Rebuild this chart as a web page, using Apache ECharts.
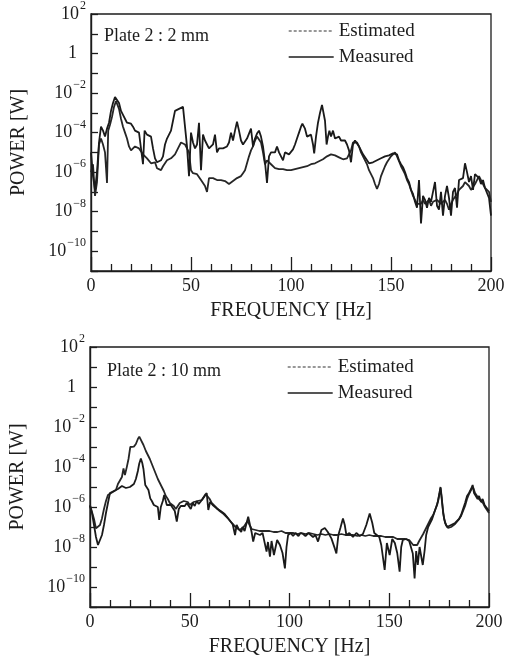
<!DOCTYPE html>
<html>
<head>
<meta charset="utf-8">
<title>Plate 2 power spectra</title>
<script src="https://cdn.jsdelivr.net/npm/echarts@6/dist/echarts.min.js"></script>
<style>
  html, body { margin: 0; padding: 0; background: #fff; }
  #chart { width: 510px; height: 658px; }
</style>
</head>
<body>
<div id="chart"></div>
<script>
// 面板标题 / legend names
const panelTitles = ['Plate 2 : 2 mm', 'Plate 2 : 10 mm']
const seriesNames = ['Estimated', 'Measured']
const xName = 'FREQUENCY [Hz]'
const yName = 'POWER [W]'

// curves: [frequency in Hz, log10 of power in W]
const estimated2mm = [
  [0, -6.0], [1, -5.6], [2, -7.2], [3, -6.5], [4, -4.6], [5, -4.3], [6, -4.6], [7, -5.0], [8, -6.55], [8.6, -3.9],
  [9.5, -3.6], [10.5, -3.2], [11.5, -2.7], [12.5, -2.4], [13.3, -2.45], [14, -2.8], [15, -3.3], [16, -3.7], [17, -4.0], [18, -4.3],
  [19, -4.7], [20, -4.9], [21, -5.0], [22, -4.7], [23, -4.6], [24, -4.8], [25, -4.9], [26, -5.1], [27, -5.2], [28, -5.3],
  [29, -5.4], [30, -5.55], [31, -5.45], [32, -5.5], [33, -5.8], [34, -5.85], [35, -5.9], [36, -5.7], [37, -5.6], [38, -5.4],
  [39, -5.4], [40, -5.3], [41, -5.2], [42, -5.1], [43, -4.9], [44, -4.7], [45, -4.5], [46, -4.4], [47, -4.6], [48, -4.8],
  [49, -5.0], [50, -5.9], [51, -6.05], [52, -6.0], [53, -6.1], [54, -6.2], [55, -6.4], [56, -6.5], [57, -6.7], [58, -7.0],
  [59, -6.3], [60, -6.2], [61, -6.3], [62, -6.25], [63, -6.4], [64, -6.45], [65, -6.4], [66, -6.5], [67, -6.45], [68, -6.55],
  [69, -6.6], [70, -6.5], [71, -6.45], [72, -6.4], [73, -6.3], [74, -6.2], [75, -6.2], [76, -6.05], [77, -5.9], [78, -5.55],
  [79, -5.2], [80, -4.9], [81, -4.7], [82, -4.4], [83, -4.2], [84, -4.1], [85, -4.5], [86, -5.0], [87, -5.6], [88, -5.4],
  [89, -5.5], [90, -5.6], [91, -5.7], [92, -5.8], [93, -5.75], [94, -5.85], [95, -5.9], [96, -5.85], [97, -5.9], [98, -5.9],
  [99, -5.85], [100, -5.9], [102, -5.85], [104, -5.8], [106, -5.75], [108, -5.7], [110, -5.6], [112, -5.55], [114, -5.45], [116, -5.35],
  [118, -5.2], [120, -5.1], [122, -5.15], [124, -5.25], [126, -5.35], [127, -5.4], [128, -5.3], [129, -5.1], [130, -4.9], [131, -4.5],
  [132, -4.4], [133, -4.5], [134, -4.7], [135, -5.0], [136, -5.2], [137, -5.4], [138, -5.6], [139, -5.9], [140, -6.1], [141, -6.3],
  [142, -6.6], [143, -6.85], [144, -6.6], [145, -6.2], [146, -5.95], [147, -5.7], [148, -5.5], [149, -5.35], [150, -5.2], [151, -5.1],
  [152, -5.0], [153, -5.2], [154, -5.45], [155, -5.7], [156, -5.9], [157, -6.1], [158, -6.4], [159, -6.6], [160, -6.9], [161, -7.2],
  [162, -7.4], [163, -7.6], [164, -7.5], [165, -7.6], [166, -7.4], [167, -7.6], [168, -7.5], [169, -7.4], [170, -7.7], [171, -7.5],
  [172, -7.6], [173, -7.4], [174, -7.3], [175, -7.6], [176, -7.7], [177, -7.4], [178, -7.6], [179, -7.9], [180, -7.6], [181, -7.4],
  [182, -7.5], [183, -7.1], [184, -6.9], [185, -6.8], [186, -6.7], [187, -6.5], [188, -6.4], [189, -6.7], [190, -6.9], [191, -6.8],
  [192, -6.6], [193, -6.4], [194, -6.2], [195, -6.4], [196, -6.6], [197, -6.8], [198, -6.9], [199, -7.0], [200, -7.5]
]

const measured2mm = [
  [0, -5.0], [1, -6.2], [2, -6.9], [3, -6.0], [4, -4.5], [5, -3.7], [6, -3.9], [7, -4.2], [8, -3.8], [9, -3.5],
  [10, -2.9], [11, -2.5], [12, -2.2], [13, -2.15], [14, -2.5], [15, -2.9], [16, -3.1], [17, -3.2], [18, -3.5], [19, -3.6],
  [20, -3.55], [21, -3.7], [22, -3.9], [23, -3.8], [24, -4.0], [25, -3.9], [26, -5.6], [26.8, -3.9], [28, -4.1], [29, -4.0],
  [30, -4.2], [31, -4.8], [32, -5.3], [33, -5.5], [34, -5.6], [35, -5.4], [36, -5.2], [37, -4.6], [38, -4.3], [39, -4.3],
  [40, -3.9], [41, -3.4], [42, -2.9], [43, -2.9], [44, -2.8], [45, -2.9], [46, -2.7], [47, -2.65], [48, -4.7], [49, -6.2],
  [50, -4.0], [51, -4.5], [52, -4.8], [53, -4.6], [54, -3.5], [55, -5.9], [56, -4.1], [57, -4.4], [58, -4.6], [59, -4.8],
  [60, -4.9], [61, -4.6], [62, -4.1], [63, -5.0], [64, -4.8], [65, -4.9], [66, -4.8], [67, -4.9], [68, -4.7], [69, -4.5],
  [70, -4.0], [71, -4.4], [72, -3.9], [73, -3.45], [74, -3.9], [75, -4.4], [76, -4.6], [77, -4.7], [78, -4.3], [79, -4.2],
  [80, -3.8], [81, -4.7], [82, -4.3], [83, -4.05], [84, -3.9], [85, -4.2], [86, -4.7], [87, -5.5], [88, -6.55], [89, -5.2],
  [90, -5.0], [91, -5.1], [92, -5.0], [93, -4.7], [94, -5.0], [95, -5.1], [96, -5.4], [97, -5.0], [98, -5.0], [99, -5.1],
  [100, -5.0], [101, -4.85], [102, -4.6], [103, -4.3], [104, -4.0], [105, -3.7], [105.7, -3.55], [107, -3.8], [108, -4.2], [109, -4.2],
  [110, -4.1], [111, -4.6], [111.6, -5.05], [112.5, -4.2], [113.5, -3.5], [114.5, -3.0], [115.5, -2.6], [116.3, -2.5], [117, -3.4], [117.8, -4.6],
  [118.5, -4.2], [119.2, -3.9], [120, -4.2], [121, -3.9], [122, -4.3], [123, -4.35], [124, -4.2], [125, -4.4], [126, -4.5], [127, -4.4],
  [128, -4.6], [129, -4.9], [130, -5.5], [131, -4.6], [132, -4.4], [133, -4.5], [134, -4.7], [135, -4.9], [136, -5.1], [137, -5.2],
  [138, -5.4], [139, -5.55], [140, -5.6], [141, -5.5], [142, -5.45], [143, -5.4], [144, -5.4], [145, -5.3], [146, -5.25], [147, -5.2],
  [148, -5.15], [149, -5.15], [150, -5.1], [151, -5.05], [152, -5.0], [153, -5.1], [154, -5.4], [155, -5.6], [156, -5.75], [157, -6.0],
  [158, -6.3], [159, -6.5], [160, -6.9], [161, -7.1], [162, -7.5], [163, -7.8], [164, -6.4], [165, -8.6], [166, -7.2], [167, -7.4],
  [168, -7.8], [169, -7.3], [170, -7.5], [171, -7.0], [172, -6.5], [173, -7.7], [174, -7.9], [175, -7.0], [176, -8.2], [177, -7.2],
  [178, -6.7], [179, -7.3], [180, -8.2], [181, -7.0], [182, -6.8], [183, -7.8], [184, -6.4], [185, -6.5], [186, -6.3], [187, -5.55],
  [188, -6.0], [189, -6.5], [190, -6.2], [191, -6.9], [192, -6.1], [193, -6.0], [194, -6.3], [195, -6.6], [196, -6.4], [197, -6.8],
  [198, -6.9], [199, -7.3], [200, -8.2]
]

const estimated10mm = [
  [0, -5.9], [1, -6.0], [2, -6.6], [3, -7.07], [4, -7.1], [5, -6.9], [6, -6.57], [7, -6.1], [8, -5.7], [9, -5.4],
  [10, -5.3], [11, -5.28], [12, -5.2], [13, -5.15], [14, -4.85], [15, -4.9], [16, -4.5], [16.8, -4.07], [17.5, -4.4], [18.5, -3.98],
  [19.3, -3.6], [20.2, -3.0], [21, -3.0], [22, -2.98], [23, -2.85], [24, -2.6], [24.7, -2.48], [25.5, -2.55], [26.8, -2.9], [28, -3.2],
  [29, -3.4], [30, -3.6], [31, -3.85], [32, -4.1], [33, -4.35], [34, -4.6], [35, -4.8], [36, -5.0], [37, -5.2], [38, -5.45],
  [39, -5.6], [40, -5.8], [41, -5.85], [42, -5.95], [43, -6.1], [44, -6.0], [45, -5.8], [46, -5.9], [47, -5.7], [48, -5.8],
  [49, -5.75], [50, -5.9], [51, -5.9], [52, -5.75], [53, -5.8], [54, -5.7], [55, -5.8], [56, -5.65], [57, -5.55], [58, -5.35],
  [59, -5.4], [60, -5.6], [61, -5.8], [62, -5.9], [63, -6.0], [64, -6.1], [65, -6.2], [66, -6.25], [67, -6.35], [68, -6.4],
  [69, -6.55], [70, -6.6], [71, -6.8], [72, -6.9], [73, -7.0], [74, -7.1], [75, -7.15], [76, -7.1], [77, -7.0], [78, -6.9],
  [79, -6.7], [80, -6.9], [81, -7.1], [82, -7.2], [83, -7.15], [84, -7.1], [85, -7.2], [86, -7.15], [87, -7.2], [88, -7.15],
  [90, -7.2], [92, -7.25], [94, -7.25], [96, -7.2], [98, -7.3], [100, -7.3], [102, -7.3], [104, -7.35], [106, -7.3], [108, -7.35],
  [110, -7.3], [112, -7.35], [114, -7.4], [116, -7.35], [118, -7.4], [120, -7.35], [122, -7.4], [124, -7.4], [126, -7.35], [128, -7.4],
  [130, -7.4], [132, -7.4], [134, -7.45], [136, -7.4], [138, -7.45], [140, -7.4], [142, -7.45], [144, -7.45], [146, -7.45], [148, -7.5],
  [150, -7.5], [152, -7.5], [154, -7.6], [156, -7.6], [158, -7.6], [160, -7.65], [162, -7.9], [164, -7.9], [165, -7.7], [166, -7.6],
  [167, -7.35], [168, -7.15], [169, -6.95], [170, -6.75], [171, -6.55], [172, -6.4], [173, -6.15], [174, -5.9], [175, -5.4], [175.7, -5.05],
  [176.5, -5.8], [177.5, -6.6], [178.5, -6.9], [179.5, -7.05], [181, -7.0], [182, -6.95], [183, -6.85], [184, -6.75], [185, -6.6], [186, -6.45],
  [187, -6.2], [188, -5.95], [189, -5.6], [190, -5.35], [191, -5.15], [192, -5.0], [193, -5.3], [194, -5.4], [195, -5.6], [196, -5.7],
  [197, -5.8], [198, -6.0], [199, -6.15], [200, -6.3]
]

const measured10mm = [
  [0, -5.95], [1, -6.3], [2, -6.9], [3, -7.5], [4, -7.9], [4.5, -8.0], [5, -7.95], [6, -7.4], [7, -6.9], [8, -6.3],
  [9, -5.8], [10, -5.3], [11, -5.2], [12, -5.2], [13, -5.15], [14, -5.1], [15, -5.0], [16, -4.95], [17, -5.0], [18, -5.05],
  [19, -5.1], [20, -5.0], [21, -4.9], [22, -4.85], [23, -4.6], [24, -4.2], [24.7, -3.82], [25.5, -3.57], [26.2, -3.8], [26.8, -4.1],
  [27.7, -4.9], [28.5, -5.0], [29.3, -5.15], [30.2, -5.57], [31, -5.7], [32, -5.9], [33, -5.8], [34, -6.0], [34.7, -6.65], [35.5, -6.0],
  [36.5, -5.7], [37.2, -5.4], [38.5, -5.9], [39.5, -5.8], [40.5, -5.9], [41.5, -6.0], [42.5, -6.2], [43.5, -6.73], [44.5, -6.1], [45.5, -5.95],
  [46.5, -6.0], [47.5, -5.95], [48.5, -5.8], [49.5, -5.7], [50.5, -6.1], [51.5, -5.8], [52.5, -5.95], [53.5, -5.7], [54.5, -5.85], [55.5, -5.75],
  [56.5, -5.6], [57.5, -5.5], [58.5, -5.3], [59.3, -6.15], [60.2, -5.75], [61.5, -5.9], [62.5, -6.0], [63.5, -6.07], [64.5, -6.15], [65.5, -6.2],
  [66.5, -6.3], [67.5, -6.35], [68.5, -6.4], [69.5, -6.6], [70.5, -6.7], [71.5, -6.85], [72.7, -7.4], [73.5, -6.9], [74.5, -7.1], [75.8, -7.25],
  [76.5, -7.0], [77.5, -7.2], [78.5, -6.8], [79.3, -6.48], [80.2, -6.9], [81, -7.25], [81.8, -7.73], [82.8, -7.3], [84, -7.35], [85.2, -7.4],
  [86.5, -7.3], [87.5, -7.4], [88.5, -8.23], [89.2, -7.75], [90.2, -8.48], [91, -7.7], [92.2, -8.4], [93.8, -7.65], [95.2, -7.9], [96.5, -8.3],
  [97.7, -9.07], [98.5, -8.0], [99.3, -7.4], [100.5, -7.3], [101.8, -7.45], [103, -7.3], [104.5, -7.45], [105.5, -7.3], [106.8, -7.35], [108, -7.45],
  [109.5, -7.3], [110.5, -7.4], [111.8, -7.5], [113, -7.4], [114.3, -7.73], [116, -7.15], [117.7, -7.05], [119.2, -7.25], [120, -7.3], [121, -7.57],
  [122.7, -8.07], [123.5, -8.32], [124.5, -7.4], [125.5, -7.05], [126.8, -6.57], [127.7, -6.9], [128.5, -7.4], [130, -7.3], [131.8, -7.5], [133.5, -7.3],
  [135.2, -7.45], [136.8, -7.35], [138.5, -6.9], [140.2, -6.32], [141.5, -6.8], [142.5, -7.3], [143.5, -7.4], [145, -7.5], [146, -7.9], [147.7, -9.15],
  [148.8, -7.8], [150.2, -8.4], [151.5, -7.6], [152.8, -7.8], [154, -8.3], [155.2, -9.23], [156, -8.0], [156.8, -7.65], [158.5, -7.6], [160, -7.7],
  [161.8, -8.32], [162.7, -9.57], [163.5, -8.2], [164.3, -8.9], [165.2, -8.0], [166.8, -8.9], [167.7, -8.2], [168.5, -7.4], [169.5, -7.0], [170.5, -6.8],
  [171.5, -6.6], [172.5, -6.3], [173.5, -6.0], [174.5, -5.7], [175.2, -5.3], [175.7, -5.0], [176.3, -5.5], [177, -6.3], [178, -6.8], [179, -7.0],
  [180, -6.95], [181, -6.9], [182, -6.85], [183, -6.8], [184, -6.7], [185, -6.6], [186, -6.4], [187, -6.1], [188, -5.8], [189, -5.45],
  [190, -5.3], [191, -5.1], [191.8, -4.9], [192.5, -5.3], [193.3, -5.25], [194.3, -5.6], [195, -5.45], [196, -5.75], [196.8, -5.6], [197.8, -5.9],
  [198.5, -6.0], [199.3, -6.1], [200, -6.2]
]

const FONT = 'Liberation Serif'
const INK = '#1c1c1c'

// plot boxes of the two panels
const panels = [
  { left: 91, top: 12, width: 400, height: 259, legendTop: 16, legendLeft: 283, titleLeft: 104, titleTop: 27 },
  { left: 89, top: 347, width: 400, height: 260, legendTop: 352, legendLeft: 282, titleLeft: 107, titleTop: 362 }
]

/** y tick label: 10^n written with a superscript, only even decades */
function powerLabel (v) {
  if (v % 2 !== 0) return ''
  if (v === 0) return '{one|1}'
  const exp = v < 0 ? '\u2212' + (-v) : String(v)
  return '{base|10}{sup|' + exp + '}'
}

function buildXAxis (i) {
  return {
    type: 'value',
    gridIndex: i,
    min: 0,
    max: 200,
    interval: 50,
    name: xName,
    nameLocation: 'middle',
    nameGap: 30,
    nameTextStyle: { fontFamily: FONT, fontSize: 20, color: INK },
    axisLine: { show: true, onZero: false, lineStyle: { color: INK, width: 1.4 } },
    axisTick: { show: true, inside: true, length: 14, lineStyle: { color: INK, width: 1.3 } },
    minorTick: { show: true, splitNumber: 5, length: 7, lineStyle: { color: INK, width: 1.3 } },
    axisLabel: { fontFamily: FONT, fontSize: 18, color: INK, margin: 6 },
    splitLine: { show: false }
  }
}

function buildYAxis (i) {
  return {
    type: 'value',
    gridIndex: i,
    min: -11,
    max: 2,
    interval: 1,
    name: yName,
    nameLocation: 'middle',
    nameGap: 62,
    nameTextStyle: { fontFamily: FONT, fontSize: 20, color: INK },
    axisLine: { show: true, onZero: false, lineStyle: { color: INK, width: 1.4 } },
    axisTick: { show: true, inside: true, length: 7, lineStyle: { color: INK, width: 1.3 } },
    axisLabel: {
      fontFamily: FONT,
      fontSize: 18,
      color: INK,
      margin: 5,
      formatter: powerLabel,
      rich: {
        base: { fontFamily: FONT, fontSize: 18, color: INK, lineHeight: 20 },
        sup: { fontFamily: FONT, fontSize: 12, color: INK, lineHeight: 12, padding: [0, 0, 16, 1] },
        one: { fontFamily: FONT, fontSize: 18, color: INK, padding: [0, 9, 0, 0] }
      }
    },
    splitLine: { show: false }
  }
}

function buildSeries (i, estimated, measured) {
  return [
    {
      name: seriesNames[0],
      type: 'line',
      xAxisIndex: i,
      yAxisIndex: i,
      data: estimated,
      symbol: 'none',
      silent: true,
      itemStyle: { color: '#262626' },
      lineStyle: { color: '#262626', width: 1.8 }
    },
    {
      name: seriesNames[1],
      type: 'line',
      xAxisIndex: i,
      yAxisIndex: i,
      data: measured,
      symbol: 'none',
      silent: true,
      itemStyle: { color: '#1a1a1a' },
      lineStyle: { color: '#1a1a1a', width: 1.8 }
    }
  ]
}

function buildLegend (p) {
  return {
    orient: 'vertical',
    left: p.legendLeft,
    top: p.legendTop,
    itemWidth: 45,
    itemHeight: 14,
    itemGap: 6,
    textStyle: { fontFamily: FONT, fontSize: 19, color: INK, lineHeight: 20 },
    data: [
      { name: seriesNames[0], itemStyle: { opacity: 0 }, lineStyle: { color: '#777', width: 1.4, type: [3, 2] } },
      { name: seriesNames[1], itemStyle: { opacity: 0 }, lineStyle: { color: INK, width: 1.4 } }
    ]
  }
}

const chart = echarts.init(document.getElementById('chart'))

chart.setOption({
  animation: false,
  backgroundColor: '#fff',
  textStyle: { fontFamily: FONT },
  title: panels.map((p, i) => ({
    text: panelTitles[i],
    left: p.titleLeft,
    top: p.titleTop,
    padding: 0,
    textStyle: { fontFamily: FONT, fontSize: 18, fontWeight: 'normal', color: INK }
  })),
  legend: panels.map(buildLegend),
  grid: panels.map(p => ({
    left: p.left,
    top: p.top,
    width: p.width,
    height: p.height,
    show: true,
    borderColor: INK,
    borderWidth: 1.3,
    backgroundColor: 'transparent'
  })),
  xAxis: [buildXAxis(0), buildXAxis(1)],
  yAxis: [buildYAxis(0), buildYAxis(1)],
  series: [
    ...buildSeries(0, estimated2mm, measured2mm),
    ...buildSeries(1, estimated10mm, measured10mm)
  ]
})
</script>
</body>
</html>
